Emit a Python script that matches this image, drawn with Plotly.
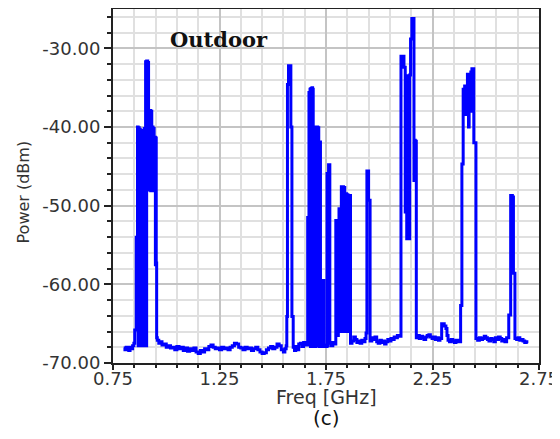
import plotly.graph_objects as go

# ---- data (step trace, hv) ----
freq_ghz = [
    0.800, 0.806, 0.812, 0.818, 0.824, 0.830, 0.836, 0.842, 0.848,
    0.852, 0.859, 0.865, 0.868, 0.870, 0.873, 0.875, 0.878, 0.880, 0.883, 0.885,
    0.888, 0.890, 0.893, 0.897, 0.900, 0.903, 0.906, 0.908, 0.913, 0.915, 0.917,
    0.921, 0.923, 0.927, 0.929, 0.932, 0.934, 0.938, 0.940, 0.943, 0.949, 0.951,
    0.953, 0.955,
    0.958, 0.965, 0.972, 0.980, 0.990, 1.000, 1.010, 1.020, 1.030, 1.040, 1.050,
    1.060, 1.070, 1.080, 1.090, 1.100, 1.110, 1.120, 1.130, 1.140, 1.150, 1.160,
    1.170, 1.180, 1.190, 1.200, 1.210, 1.220, 1.230, 1.240, 1.250, 1.260, 1.270,
    1.280, 1.290, 1.300, 1.310, 1.320, 1.330, 1.340, 1.350, 1.360, 1.370, 1.380,
    1.390, 1.400, 1.410, 1.420, 1.430, 1.440, 1.450, 1.460, 1.470, 1.480, 1.490,
    1.500, 1.510, 1.520, 1.530, 1.540, 1.550, 1.557, 1.563,
    1.566, 1.569, 1.574, 1.585, 1.590,
    1.596, 1.602, 1.608, 1.615, 1.622, 1.630, 1.637, 1.645, 1.652,
    1.664, 1.670, 1.675, 1.677, 1.679, 1.682, 1.684, 1.687,
    1.690, 1.694, 1.697, 1.703, 1.706, 1.708, 1.711, 1.713, 1.716, 1.719, 1.721,
    1.724, 1.727, 1.733, 1.737, 1.740, 1.745,
    1.750, 1.755, 1.758, 1.760, 1.762, 1.764, 1.765, 1.768, 1.775, 1.782, 1.789,
    1.796, 1.800, 1.803, 1.806, 1.808, 1.811, 1.815, 1.817, 1.820, 1.822, 1.826,
    1.828, 1.832, 1.834, 1.838, 1.841, 1.843, 1.847, 1.849, 1.853, 1.856, 1.858,
    1.865, 1.872, 1.880, 1.888, 1.895, 1.903, 1.910, 1.918, 1.926, 1.933,
    1.938, 1.942, 1.950,
    1.957, 1.965, 1.972, 1.980, 1.988, 1.995, 2.003, 2.010, 2.018, 2.025, 2.032,
    2.040, 2.048, 2.055, 2.062, 2.070, 2.078, 2.085, 2.092,
    2.102, 2.116, 2.122, 2.125, 2.129, 2.131, 2.135, 2.137, 2.140, 2.143, 2.147,
    2.153, 2.163, 2.166, 2.169, 2.171,
    2.174, 2.180, 2.188, 2.195, 2.203, 2.210, 2.218, 2.225, 2.233, 2.240, 2.248,
    2.255, 2.263, 2.270, 2.278, 2.285, 2.293, 2.305, 2.313, 2.318, 2.323, 2.330,
    2.338, 2.345, 2.353, 2.360, 2.368,
    2.382, 2.388, 2.394, 2.401, 2.405, 2.407, 2.411, 2.414, 2.419, 2.422, 2.427,
    2.430, 2.435, 2.444,
    2.454, 2.462, 2.470, 2.478, 2.485, 2.493, 2.500, 2.508, 2.515, 2.523, 2.530,
    2.538, 2.545, 2.553, 2.560, 2.568, 2.575, 2.583, 2.590, 2.598,
    2.608, 2.617, 2.625, 2.630,
    2.637, 2.645, 2.652, 2.660, 2.668, 2.675, 2.683, 2.690, 2.700,
]

power_dbm = [
    -68.1, -68.3, -68.0, -68.2, -68.4, -68.0, -68.2, -67.8, -67.5,
    -65.8, -54.0, -40.0, -67.8, -40.1, -67.8, -40.3, -57.8, -40.5, -67.8, -40.4,
    -67.8, -40.6, -67.8, -40.2, -67.8, -31.7, -67.8, -31.6, -48.0, -31.8, -37.9,
    -48.0, -37.9, -48.1, -38.0, -48.0, -40.0, -48.1, -40.2, -41.3, -57.5, -41.4,
    -57.3, -66.8,
    -67.1, -67.5, -67.3, -67.7, -67.6, -68.0, -67.8, -68.1, -68.0, -68.3, -67.9,
    -68.2, -68.0, -68.4, -68.1, -68.5, -68.2, -68.4, -68.1, -68.6, -68.8, -68.4,
    -68.6, -68.2, -68.3, -67.9, -67.7, -68.0, -68.2, -68.1, -68.3, -68.0, -68.2,
    -68.1, -68.3, -68.0, -67.8, -67.5, -67.6, -68.0, -68.1, -68.3, -68.0, -68.2,
    -68.1, -68.4, -68.2, -68.0, -68.3, -68.6, -68.8, -68.7, -68.3, -68.1, -67.9,
    -68.2, -68.0, -67.6, -67.8, -68.3, -68.6, -68.2, -67.8,
    -64.1, -34.6, -32.2, -40.0, -64.1,
    -68.0, -68.4, -67.9, -68.3, -67.6, -67.5, -67.9, -67.4, -67.7,
    -51.5, -35.6, -35.2, -67.9, -35.1, -60.7, -35.0, -35.2,
    -67.9, -60.7, -67.9, -40.0, -67.8, -40.0, -59.5, -40.1, -41.9, -67.9, -41.9,
    -59.5, -67.8, -67.9, -59.5, -67.7, -67.9,
    -67.9, -45.9, -67.8, -45.9, -44.8, -67.5, -44.8, -67.5, -67.8, -67.4, -67.6,
    -51.9, -55.7, -60.3, -66.5, -60.3, -50.4, -57.3, -50.4, -66.0, -47.6, -66.0,
    -47.6, -65.5, -47.7, -48.5, -66.0, -48.5, -65.8, -48.6, -48.7, -66.0, -48.7,
    -67.5, -67.2, -66.7, -67.0, -67.4, -67.2, -67.5, -67.1, -67.3, -66.9,
    -66.2, -45.6, -49.3,
    -67.2, -66.8, -67.0, -66.7, -67.3, -67.5, -67.1, -67.4, -67.2, -67.6, -67.3,
    -67.0, -67.2, -66.9, -67.0, -66.7, -66.8, -66.5, -66.6,
    -31.0, -32.4, -50.8, -33.5, -54.2, -33.6, -50.8, -33.5, -54.2, -33.4, -28.8,
    -26.2, -46.8, -41.7, -46.8, -41.8,
    -66.8, -66.5, -66.9, -66.6, -66.8, -67.0, -66.7, -66.5, -66.4, -66.7, -66.9,
    -66.7, -67.0, -66.8, -67.1, -66.9, -65.0, -65.3, -65.6, -66.5, -67.1, -67.3,
    -67.0, -67.2, -67.4, -67.1, -67.3,
    -62.7, -44.7, -35.2, -34.8, -38.4, -34.9, -38.3, -33.3, -40.0, -33.3, -38.0,
    -33.0, -32.6, -42.0,
    -66.9, -67.1, -66.8, -67.0, -66.9, -66.6, -66.8, -67.0, -67.2, -66.9, -67.0,
    -67.3, -66.8, -67.0, -66.7, -66.9, -67.2, -67.0, -67.3, -66.8,
    -63.9, -48.7, -48.9, -58.6,
    -66.9, -67.0, -66.8, -67.1, -67.0, -67.2, -67.4, -67.3, -67.3,
]

x_range = [0.75, 2.75]
y_range = [-70, -25]
x_tick_vals = [0.75, 1.25, 1.75, 2.25, 2.75]
x_tick_text = ["0.75", "1.25", "1.75", "2.25", "2.75"]
y_tick_vals = [-70, -60, -50, -40, -30]
y_tick_text = ["-70.00", "-60.00", "-50.00", "-40.00", "-30.00"]
x_title = "Freq [GHz]"
y_title = "Power (dBm)"
panel_label = "(c)"
inset_label = "Outdoor"

fig = go.Figure()
fig.add_trace(go.Scatter(
    x=freq_ghz, y=power_dbm, mode="lines",
    line=dict(color="#0000ff", width=3, shape="hv"),
    showlegend=False, hoverinfo="skip",
))

tick_font = dict(family="DejaVu Sans", size=18, color="#333333")

fig.update_xaxes(
    range=x_range, tickmode="array", tickvals=x_tick_vals, ticktext=x_tick_text,
    showgrid=True, gridcolor="#c4c4c4", gridwidth=2,
    ticks="outside", ticklen=5, tickwidth=1.5, tickcolor="#222222",
    showline=True, linecolor="#222222", linewidth=2, mirror=True,
    zeroline=False, tickfont=tick_font, automargin=False,
    ticklabelstandoff=-7,
    minor=dict(tick0=0.75, dtick=0.1, showgrid=True, gridcolor="#e0e0e0",
               gridwidth=2, ticks="outside", ticklen=3, tickcolor="#222222",
               tickwidth=1.5),
)
fig.update_yaxes(
    range=y_range, tickmode="array", tickvals=y_tick_vals, ticktext=y_tick_text,
    showgrid=True, gridcolor="#c4c4c4", gridwidth=2,
    ticks="outside", ticklen=7, tickwidth=1.5, tickcolor="#222222",
    showline=True, linecolor="#222222", linewidth=2, mirror=True,
    zeroline=False, tickfont=tick_font, automargin=False,
    minor=dict(tick0=-70, dtick=2, showgrid=True, gridcolor="#e0e0e0",
               gridwidth=2, ticks="outside", ticklen=4, tickcolor="#222222",
               tickwidth=1.5),
)

# the page adds an 8 px body margin, so the figure is sized/offset to match
fig.update_layout(
    width=552, height=431,
    margin=dict(l=105, r=21, t=1, b=76, autoexpand=False),
    paper_bgcolor="white", plot_bgcolor="white",
    annotations=[
        dict(text="<b>" + inset_label + "</b>", x=0.249, y=0.915,
             xref="paper", yref="paper",
             showarrow=False, xanchor="center", yanchor="middle",
             font=dict(family="DejaVu Serif", size=21, color="#111111")),
        dict(text=x_title, x=0.5, y=-0.097, xref="paper", yref="paper",
             showarrow=False, xanchor="center", yanchor="middle",
             font=dict(family="DejaVu Sans", size=19, color="#333333")),
        dict(text=panel_label, x=0.5, y=-0.155, xref="paper", yref="paper",
             showarrow=False, xanchor="center", yanchor="middle",
             font=dict(family="DejaVu Sans", size=20, color="#111111")),
        dict(text=y_title, x=-0.211, y=0.482, xref="paper", yref="paper",
             showarrow=False, xanchor="center", yanchor="middle", textangle=-90,
             font=dict(family="DejaVu Sans", size=16, color="#333333")),
    ],
)

fig.write_html("out.html")
